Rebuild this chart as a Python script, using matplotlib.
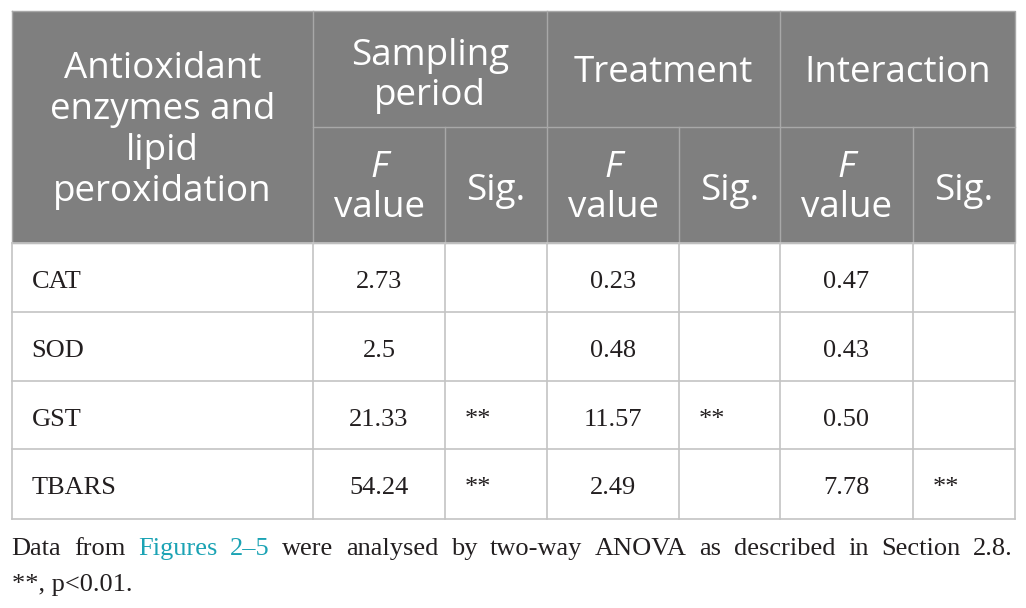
import matplotlib
matplotlib.use("Agg")
import matplotlib.pyplot as plt
from matplotlib.patches import Rectangle

# ---- data ----
row_labels = ["CAT", "SOD", "GST", "TBARS"]
period_f = ["2.73", "2.5", "21.33", "54.24"]
period_sig = ["", "", "**", "**"]
treat_f = ["0.23", "0.48", "11.57", "2.49"]
treat_sig = ["", "", "**", ""]
inter_f = ["0.47", "0.43", "0.50", "7.78"]
inter_sig = ["", "", "", "**"]
first_header = ["Antioxidant", "enzymes and", "lipid", "peroxidation"]
group_headers = [["Sampling", "period"], ["Treatment"], ["Interaction"]]
sub_headers = ["F value", "Sig."]
footnote_1 = ["Data", "from", "Figures", "2\u20135", "were", "analysed", "by", "two-way",
              "ANOVA", "as", "described", "in", "Section", "2.8."]
footnote_link = {"Figures", "2\u20135"}
footnote_2 = "**, p<0.01."

# ---- layout (pixels) ----
W, H = 1026, 608
col_x = [11.6, 313, 445, 547, 679, 780, 913, 1015]
top, mid, hdr_bot = 11, 127, 242.5
row_y = [242.5, 312, 381, 449, 518.5]

HEADER_BG = "#7f7f7f"
HEADER_LINE = "#a8a8a8"
BODY_LINE = "#c4c4c4"
TEXT = "#231f20"
LINK = "#1ba3b4"

fig = plt.figure(figsize=(W / 100, H / 100), dpi=100)
ax = fig.add_axes([0, 0, 1, 1])
ax.set_xlim(0, W)
ax.set_ylim(H, 0)
ax.axis("off")

# header background
ax.add_patch(Rectangle((col_x[0], top), col_x[-1] - col_x[0], hdr_bot - top,
                       facecolor=HEADER_BG, edgecolor="none", zorder=1))
# header lines
lw = 1.0
ax.plot([col_x[1], col_x[-1]], [mid, mid], color=HEADER_LINE, lw=lw, zorder=2)
for i in (1, 3, 5):
    ax.plot([col_x[i], col_x[i]], [top, hdr_bot], color=HEADER_LINE, lw=lw, zorder=2)
for i in (2, 4, 6):
    ax.plot([col_x[i], col_x[i]], [mid, hdr_bot], color=HEADER_LINE, lw=lw, zorder=2)
ax.plot([col_x[0], col_x[-1], col_x[-1], col_x[0], col_x[0]],
        [top, top, hdr_bot, hdr_bot, top], color=HEADER_LINE, lw=lw, zorder=2)

# body lines
for y in row_y:
    ax.plot([col_x[0], col_x[-1]], [y, y], color=BODY_LINE, lw=1.2, zorder=2)
for x in col_x:
    ax.plot([x, x], [row_y[0], row_y[-1]], color=BODY_LINE, lw=1.2, zorder=2)

HFONT = "Open Sans"
HSIZE = 26.5
# first header column
cx0 = (col_x[0] + col_x[1]) / 2
for k, line in enumerate(first_header):
    ax.text(cx0, 78 + 41 * k, line, family=HFONT, size=HSIZE, color="white",
            ha="center", va="baseline", zorder=3)
# group headers
for g, lines in enumerate(group_headers):
    cx = (col_x[1 + 2 * g] + col_x[3 + 2 * g]) / 2
    if len(lines) == 2:
        ys = [64.5, 105]
    else:
        ys = [82.5]
    for line, y in zip(lines, ys):
        ax.text(cx, y, line, family=HFONT, size=HSIZE, color="white",
                ha="center", va="baseline", zorder=3)
# sub headers
for g in range(3):
    cf = (col_x[1 + 2 * g] + col_x[2 + 2 * g]) / 2
    cs = (col_x[2 + 2 * g] + col_x[3 + 2 * g]) / 2
    f_word, v_word = sub_headers[0].split(" ")
    ax.text(cf, 177, f_word, family=HFONT, size=HSIZE, color="white", style="italic",
            ha="center", va="baseline", zorder=3)
    ax.text(cf, 217, v_word, family=HFONT, size=HSIZE, color="white",
            ha="center", va="baseline", zorder=3)
    ax.text(cs, 200, sub_headers[1], family=HFONT, size=HSIZE, color="white",
            ha="center", va="baseline", zorder=3)

# body
BFONT = "Liberation Serif"
BSIZE = 19
cols = [(period_f, period_sig), (treat_f, treat_sig), (inter_f, inter_sig)]
for r, lab in enumerate(row_labels):
    yb = (row_y[r] + row_y[r + 1]) / 2 + 10.5
    ax.text(col_x[0] + 20, yb, lab, family=BFONT, size=BSIZE, color=TEXT,
            ha="left", va="baseline", zorder=3)
    for g, (fv, sg) in enumerate(cols):
        cf = (col_x[1 + 2 * g] + col_x[2 + 2 * g]) / 2
        ax.text(cf, yb, fv[r], family=BFONT, size=BSIZE, color=TEXT,
                ha="center", va="baseline", zorder=3)
        if sg[r]:
            ax.text(col_x[2 + 2 * g] + 20, yb, sg[r], family=BFONT, size=BSIZE,
                    color=TEXT, ha="left", va="baseline", zorder=3)

# footnote (justified first line)
fig.canvas.draw()
renderer = fig.canvas.get_renderer()
x_left, x_right = 11.7, 1013
texts = []
widths = []
for w in footnote_1:
    t = ax.text(0, 555, w, family=BFONT, size=BSIZE,
                color=LINK if w in footnote_link else TEXT,
                ha="left", va="baseline", zorder=3)
    bb = t.get_window_extent(renderer=renderer)
    texts.append(t)
    widths.append(bb.width)
gap = (x_right - x_left - sum(widths)) / (len(footnote_1) - 1)
x = x_left
for t, wd in zip(texts, widths):
    t.set_x(x)
    x += wd + gap
ax.text(x_left, 591.5, footnote_2, family=BFONT, size=BSIZE, color=TEXT,
        ha="left", va="baseline", zorder=3)

fig.savefig("out.png", dpi=100, facecolor="white")
